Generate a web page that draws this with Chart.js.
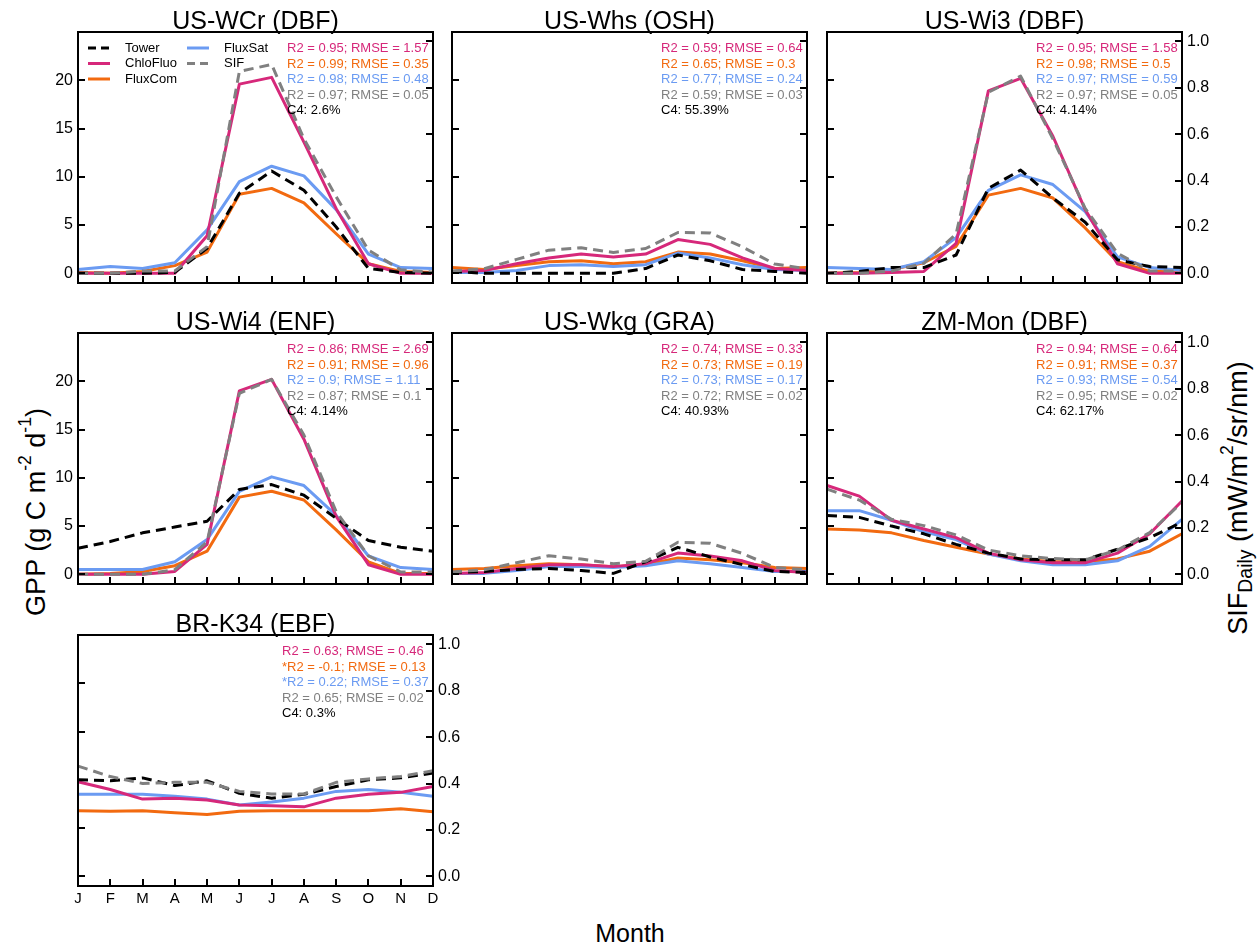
<!DOCTYPE html>
<html>
<head>
<meta charset="utf-8">
<title>Monthly GPP and SIF by site</title>
<script src="https://cdn.jsdelivr.net/npm/chart.js@4.4.1/dist/chart.umd.min.js"></script>
<style>
  html, body { margin: 0; padding: 0; background: #fff; }
  body { width: 1257px; height: 951px; position: relative; overflow: hidden;
         font-family: "Liberation Sans", Arial, Helvetica, sans-serif; color: #000; }
  canvas.panel { position: absolute; }
  .axis-label { position: absolute; white-space: nowrap; font-size: 25px; line-height: 1;
                transform: translate(-50%, -50%); }
  .axis-label.rot { transform: translate(-50%, -50%) rotate(-90deg); }
  .axis-label sup, .axis-label sub { font-size: 0.65em; line-height: 0; }
  .axis-label sup { vertical-align: 0.75em; }
  .axis-label sub { vertical-align: -0.3em; }
  #ylab-left { font-size: 27px; }
  #ylab-right { font-size: 27px; }
  #ylab-right sub { font-size: 0.72em; }
</style>
</head>
<body>

<div id="ylab-left" class="axis-label rot" style="left:36px; top:512px;">GPP (g C m<sup>-2</sup> d<sup>-1</sup>)</div>
<div id="ylab-right" class="axis-label rot" style="left:1238px; top:498px;">SIF<sub>Daily</sub> (mW/m<sup>2</sup>/sr/nm)</div>
<div class="axis-label" style="left:630px; top:933px;">Month</div>

<script>
// ---- axis categories and tick labels ----
const months = ['J', 'F', 'M', 'A', 'M', 'J', 'J', 'A', 'S', 'O', 'N', 'D'];
const gppTicks = [0, 5, 10, 15, 20];
const sifTicks = [0, 0.2, 0.4, 0.6, 0.8, 1.0];
const seriesNames = ['Tower', 'ChloFluo', 'FluxCom', 'FluxSat', 'SIF'];

// ---- US-WCr (DBF) ----
const wcrTower    = [0, 0, 0, 0.1, 2.6, 8.3, 10.6, 8.6, 4.8, 0.5, 0.1, 0];
const wcrChloFluo = [0, 0, 0, 0, 3.9, 19.6, 20.3, 13.6, 6.7, 1.0, 0, 0];
const wcrFluxCom  = [0.1, 0, 0.2, 0.8, 2.2, 8.2, 8.8, 7.3, 4.1, 1.0, 0.2, 0.1];
const wcrFluxSat  = [0.4, 0.7, 0.5, 1.1, 4.5, 9.5, 11.1, 10.1, 6.6, 2.0, 0.6, 0.5];
const wcrSIF      = [0, 0, 0.01, 0.01, 0.115, 0.87, 0.9, 0.58, 0.33, 0.1, 0.015, 0.005];
const wcrStats    = ['R2 = 0.95; RMSE = 1.57', 'R2 = 0.99; RMSE = 0.35', 'R2 = 0.98; RMSE = 0.48', 'R2 = 0.97; RMSE = 0.05', 'C4: 2.6%'];

// ---- US-Whs (OSH) ----
const whsTower    = [0.2, 0, 0, 0, 0, 0, 0.5, 1.9, 1.3, 0.4, 0.2, 0];
const whsChloFluo = [0.2, 0.3, 1.0, 1.6, 2.0, 1.7, 2.0, 3.5, 3.0, 1.6, 0.5, 0.3];
const whsFluxCom  = [0.6, 0.4, 0.8, 1.2, 1.3, 1.0, 1.2, 2.2, 2.0, 1.3, 0.5, 0.6];
const whsFluxSat  = [0.1, 0.1, 0.3, 0.8, 0.9, 0.7, 0.9, 2.1, 1.6, 0.9, 0.4, 0.3];
const whsSIF      = [0.01, 0.02, 0.06, 0.1, 0.11, 0.09, 0.107, 0.176, 0.174, 0.114, 0.04, 0.02];
const whsStats    = ['R2 = 0.59; RMSE = 0.64', 'R2 = 0.65; RMSE = 0.3', 'R2 = 0.77; RMSE = 0.24', 'R2 = 0.59; RMSE = 0.03', 'C4: 55.39%'];

// ---- US-Wi3 (DBF) ----
const wi3Tower    = [0, 0.2, 0.6, 0.6, 1.9, 8.8, 10.7, 7.8, 5.3, 1.4, 0.7, 0.6];
const wi3ChloFluo = [0, 0, 0.1, 0.2, 3.1, 18.9, 20.2, 14.2, 6.6, 1.0, 0, 0];
const wi3FluxCom  = [0, 0.1, 0.4, 1.1, 2.8, 8.1, 8.8, 7.8, 4.7, 1.2, 0.2, 0.2];
const wi3FluxSat  = [0.6, 0.5, 0.4, 1.2, 3.7, 8.6, 10.2, 9.2, 6.4, 1.7, 0.6, 0.3];
const wi3SIF      = [0, 0, 0.01, 0.043, 0.17, 0.78, 0.85, 0.58, 0.28, 0.087, 0.01, 0.01];
const wi3Stats    = ['R2 = 0.95; RMSE = 1.58', 'R2 = 0.98; RMSE = 0.5', 'R2 = 0.97; RMSE = 0.59', 'R2 = 0.97; RMSE = 0.05', 'C4: 4.14%'];

// ---- US-Wi4 (ENF) ----
const wi4Tower    = [2.7, 3.4, 4.3, 4.9, 5.5, 8.8, 9.3, 8.2, 5.8, 3.5, 2.8, 2.4];
const wi4ChloFluo = [0, 0, 0, 0.3, 3.1, 19.0, 20.2, 14.0, 6.0, 1.0, 0, 0];
const wi4FluxCom  = [0, 0.1, 0.3, 0.9, 2.4, 8.0, 8.6, 7.7, 4.6, 1.3, 0.1, 0.1];
const wi4FluxSat  = [0.5, 0.5, 0.5, 1.3, 3.6, 8.6, 10.1, 9.2, 6.1, 1.9, 0.7, 0.5];
const wi4SIF      = [0, 0, 0, 0.02, 0.14, 0.78, 0.84, 0.6, 0.27, 0.08, 0.01, 0.01];
const wi4Stats    = ['R2 = 0.86; RMSE = 2.69', 'R2 = 0.91; RMSE = 0.96', 'R2 = 0.9; RMSE = 1.11', 'R2 = 0.87; RMSE = 0.1', 'C4: 4.14%'];

// ---- US-Wkg (GRA) ----
const wkgTower    = [0.2, 0.3, 0.5, 0.6, 0.4, 0.1, 1.3, 2.8, 1.8, 1.0, 0.3, 0.2];
const wkgChloFluo = [0.1, 0.2, 0.6, 1.0, 1.0, 0.8, 1.1, 2.2, 1.9, 1.4, 0.4, 0.2];
const wkgFluxCom  = [0.5, 0.6, 0.9, 1.1, 1.0, 0.8, 1.0, 1.7, 1.5, 1.2, 0.7, 0.6];
const wkgFluxSat  = [0.1, 0.1, 0.4, 0.8, 0.8, 0.7, 0.9, 1.4, 1.1, 0.7, 0.3, 0.3];
const wkgSIF      = [0.01, 0.02, 0.05, 0.08, 0.066, 0.046, 0.056, 0.138, 0.134, 0.09, 0.03, 0.02];
const wkgStats    = ['R2 = 0.74; RMSE = 0.33', 'R2 = 0.73; RMSE = 0.19', 'R2 = 0.73; RMSE = 0.17', 'R2 = 0.72; RMSE = 0.02', 'C4: 40.93%'];

// ---- ZM-Mon (DBF) ----
const monTower    = [6.1, 5.9, 5.0, 4.2, 3.1, 2.2, 1.6, 1.5, 1.5, 2.6, 3.8, 5.4];
const monChloFluo = [9.2, 8.1, 5.6, 4.7, 3.8, 2.2, 1.5, 1.2, 1.2, 2.2, 4.2, 7.6];
const monFluxCom  = [4.7, 4.6, 4.3, 3.5, 2.8, 2.1, 1.6, 1.3, 1.3, 1.6, 2.4, 4.2];
const monFluxSat  = [6.6, 6.6, 5.6, 4.4, 3.6, 2.1, 1.4, 1.0, 1.0, 1.4, 2.9, 5.7];
const monSIF      = [0.367, 0.32, 0.237, 0.21, 0.17, 0.105, 0.08, 0.068, 0.062, 0.105, 0.18, 0.31];
const monStats    = ['R2 = 0.94; RMSE = 0.64', 'R2 = 0.91; RMSE = 0.37', 'R2 = 0.93; RMSE = 0.54', 'R2 = 0.95; RMSE = 0.02', 'C4: 62.17%'];

// ---- BR-K34 (EBF) ----
const k34Tower    = [10.0, 9.9, 10.2, 9.4, 9.9, 8.6, 8.1, 8.5, 9.3, 10.0, 10.2, 10.7];
const k34ChloFluo = [9.8, 9.0, 8.0, 8.1, 7.9, 7.4, 7.3, 7.2, 8.1, 8.5, 8.7, 9.3];
const k34FluxCom  = [6.8, 6.75, 6.8, 6.6, 6.4, 6.75, 6.8, 6.8, 6.8, 6.8, 7.0, 6.7];
const k34FluxSat  = [8.5, 8.5, 8.5, 8.3, 8.0, 7.4, 7.7, 8.1, 8.8, 9.0, 8.7, 8.3];
const k34SIF      = [0.475, 0.43, 0.40, 0.405, 0.405, 0.366, 0.355, 0.355, 0.405, 0.42, 0.43, 0.455];
const k34Stats    = ['R2 = 0.63; RMSE = 0.46', '*R2 = -0.1; RMSE = 0.13', '*R2 = 0.22; RMSE = 0.37', 'R2 = 0.65; RMSE = 0.02', 'C4: 0.3%'];

// ---- styles ----
const FONT = "'Liberation Sans', Arial, Helvetica, sans-serif";
Chart.defaults.font.family = FONT;
Chart.defaults.color = '#000';

const seriesStyle = {
  Tower:    { color: '#000000', dash: [10, 6], axis: 'y',  order: 1 },
  ChloFluo: { color: '#d6287a', dash: [],      axis: 'y',  order: 2 },
  FluxCom:  { color: '#f26a10', dash: [],      axis: 'y',  order: 4 },
  FluxSat:  { color: '#6b9bf2', dash: [],      axis: 'y',  order: 3 },
  SIF:      { color: '#808080', dash: [10, 6], axis: 'y2', order: 0 }
};
const statColors = ['#d6287a', '#f26a10', '#6b9bf2', '#808080', '#000000'];

// frame geometry (page pixels)
const colLeft = [78, 452, 827];
const rowTop = [32, 333, 635];
const frameW = 355, frameH = 251;
const padL = 45, padR = 45, padT = 40, padB = 30;

const panels = [
  { title: 'US-WCr (DBF)', series: [wcrTower, wcrChloFluo, wcrFluxCom, wcrFluxSat, wcrSIF], stats: wcrStats, col: 0, row: 0, leftLab: true,  rightLab: false, monthLab: false, legend: true,  statX: 209 },
  { title: 'US-Whs (OSH)', series: [whsTower, whsChloFluo, whsFluxCom, whsFluxSat, whsSIF], stats: whsStats, col: 1, row: 0, leftLab: false, rightLab: false, monthLab: false, legend: false, statX: 209 },
  { title: 'US-Wi3 (DBF)', series: [wi3Tower, wi3ChloFluo, wi3FluxCom, wi3FluxSat, wi3SIF], stats: wi3Stats, col: 2, row: 0, leftLab: false, rightLab: true,  monthLab: false, legend: false, statX: 209 },
  { title: 'US-Wi4 (ENF)', series: [wi4Tower, wi4ChloFluo, wi4FluxCom, wi4FluxSat, wi4SIF], stats: wi4Stats, col: 0, row: 1, leftLab: true,  rightLab: false, monthLab: false, legend: false, statX: 209 },
  { title: 'US-Wkg (GRA)', series: [wkgTower, wkgChloFluo, wkgFluxCom, wkgFluxSat, wkgSIF], stats: wkgStats, col: 1, row: 1, leftLab: false, rightLab: false, monthLab: false, legend: false, statX: 209 },
  { title: 'ZM-Mon (DBF)', series: [monTower, monChloFluo, monFluxCom, monFluxSat, monSIF], stats: monStats, col: 2, row: 1, leftLab: false, rightLab: true,  monthLab: false, legend: false, statX: 209 },
  { title: 'BR-K34 (EBF)', series: [k34Tower, k34ChloFluo, k34FluxCom, k34FluxSat, k34SIF], stats: k34Stats, col: 0, row: 2, leftLab: false, rightLab: true,  monthLab: true,  legend: false, statX: 204 }
];

// Frame, inward tick marks, panel title, statistics block and legend
const panelDecor = {
  id: 'panelDecor',
  afterDatasetsDraw(chart, args, opts) {
    const { ctx, chartArea: a, scales } = chart;
    ctx.save();
    ctx.strokeStyle = '#000';
    ctx.lineWidth = 2;
    ctx.setLineDash([]);
    ctx.beginPath();
    gppTicks.forEach(v => {
      const y = Math.round(scales.y.getPixelForValue(v));
      ctx.moveTo(a.left, y); ctx.lineTo(a.left + 7, y);
    });
    sifTicks.forEach(v => {
      const y = Math.round(scales.y2.getPixelForValue(v));
      ctx.moveTo(a.right - 7, y); ctx.lineTo(a.right, y);
    });
    months.forEach((m, i) => {
      const x = Math.round(scales.x.getPixelForValue(i));
      ctx.moveTo(x, a.bottom); ctx.lineTo(x, a.bottom - 7);
    });
    ctx.stroke();
    ctx.strokeRect(a.left, a.top, a.right - a.left, a.bottom - a.top);

    // title
    ctx.fillStyle = '#000';
    ctx.font = '25px ' + FONT;
    ctx.textAlign = 'center';
    ctx.textBaseline = 'alphabetic';
    ctx.fillText(opts.title, (a.left + a.right) / 2, a.top - 3.5);

    // statistics block
    ctx.font = '13px ' + FONT;
    ctx.textAlign = 'left';
    ctx.textBaseline = 'middle';
    opts.stats.forEach((s, i) => {
      ctx.fillStyle = statColors[i];
      ctx.fillText(s, a.left + opts.statX, a.top + 16.5 + i * 15.5);
    });

    // legend
    if (opts.legend) {
      const ds = chart.data.datasets;
      const slots = [[0, 0], [0, 1], [0, 2], [1, 0], [1, 1]];
      ds.forEach((d, i) => {
        const [c, r] = slots[i];
        const x0 = a.left + (c === 0 ? 10 : 109);
        const y = a.top + 16 + r * 15.5;
        ctx.strokeStyle = d.borderColor;
        ctx.lineWidth = 3;
        ctx.setLineDash(d.borderDash.length ? [8, 5] : []);
        ctx.beginPath();
        ctx.moveTo(x0, y); ctx.lineTo(x0 + 22, y);
        ctx.stroke();
        ctx.setLineDash([]);
        ctx.fillStyle = '#000';
        ctx.fillText(d.label, x0 + 37, y);
      });
    }
    ctx.restore();
  }
};

panels.forEach(p => {
  const canvas = document.createElement('canvas');
  canvas.className = 'panel';
  canvas.width = frameW + padL + padR;
  canvas.height = frameH + padT + padB;
  canvas.style.left = (colLeft[p.col] - padL) + 'px';
  canvas.style.top = (rowTop[p.row] - padT) + 'px';
  canvas.style.width = canvas.width + 'px';
  canvas.style.height = canvas.height + 'px';
  document.body.appendChild(canvas);

  const datasets = seriesNames.map((name, i) => {
    const st = seriesStyle[name];
    return {
      label: name,
      data: p.series[i],
      yAxisID: st.axis,
      borderColor: st.color,
      backgroundColor: st.color,
      borderWidth: 3,
      borderDash: st.dash,
      borderJoinStyle: 'round',
      pointRadius: 0,
      tension: 0,
      fill: false,
      order: st.order
    };
  });

  new Chart(canvas, {
    type: 'line',
    data: { labels: months, datasets },
    options: {
      responsive: false,
      animation: false,
      devicePixelRatio: 1,
      layout: { padding: { top: padT, left: 0, right: 0, bottom: 0 } },
      plugins: {
        legend: { display: false },
        title: { display: false },
        tooltip: { enabled: false },
        panelDecor: { title: p.title, stats: p.stats, legend: p.legend, statX: p.statX }
      },
      scales: {
        x: {
          type: 'category',
          offset: false,
          grid: { display: false, drawTicks: false },
          border: { display: false },
          ticks: { display: p.monthLab, autoSkip: false, maxRotation: 0, padding: 4,
                    font: { size: 15 }, color: '#000' },
          afterFit: s => { s.height = padB; }
        },
        y: {
          type: 'linear', position: 'left', min: -1, max: 25,
          grid: { display: false, drawTicks: false },
          border: { display: false },
          afterBuildTicks: s => { s.ticks = gppTicks.map(v => ({ value: v })); },
          ticks: { display: p.leftLab, padding: 5, font: { size: 16 }, color: '#000',
                   callback: v => String(v) },
          afterFit: s => { s.width = padL; }
        },
        y2: {
          type: 'linear', position: 'right', min: -0.0416, max: 1.04,
          grid: { display: false, drawTicks: false },
          border: { display: false },
          afterBuildTicks: s => { s.ticks = sifTicks.map(v => ({ value: v })); },
          ticks: { display: p.rightLab, padding: 5, font: { size: 16 }, color: '#000',
                   callback: v => Number(v).toFixed(1) },
          afterFit: s => { s.width = padR; }
        }
      }
    },
    plugins: [panelDecor]
  });
});
</script>
</body>
</html>
